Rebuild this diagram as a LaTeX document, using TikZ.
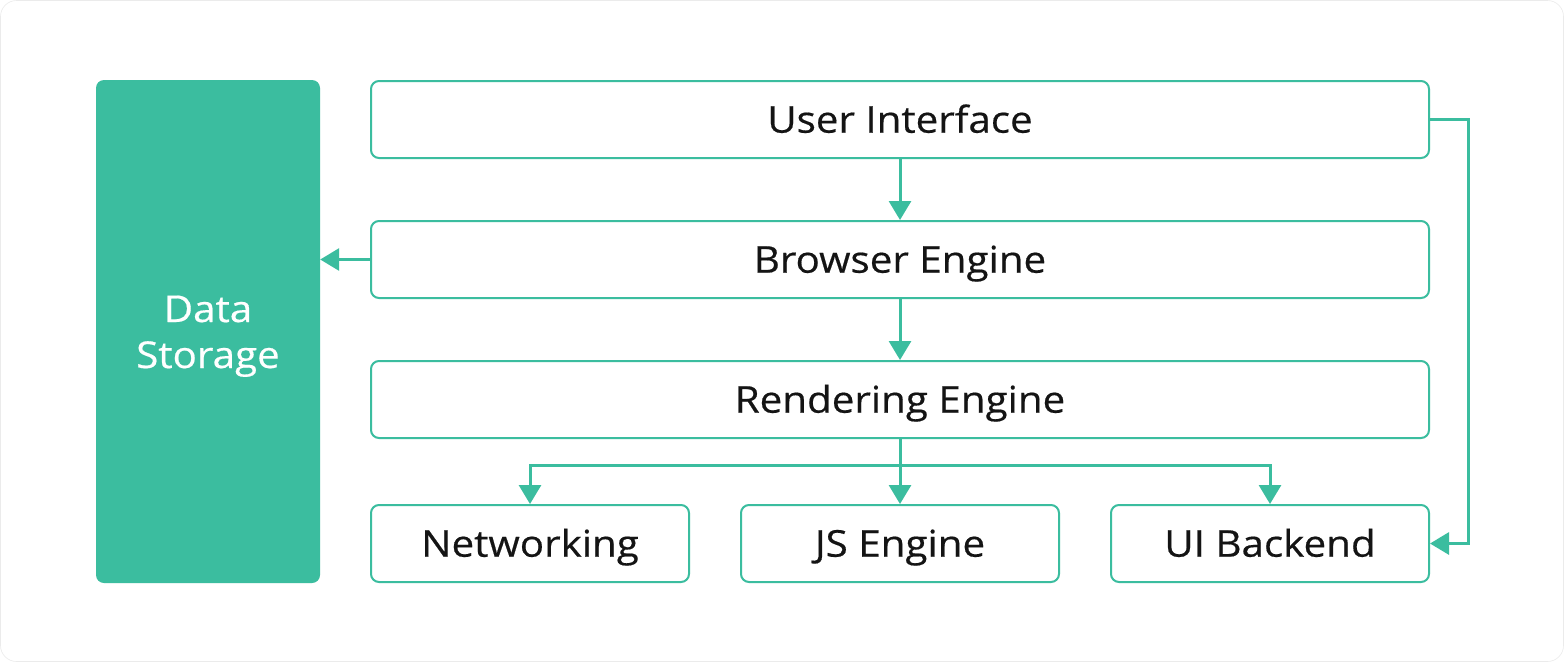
\documentclass[tikz,border=0pt]{standalone}
\usepackage{fontspec}
\setmainfont[FakeStretch=1.09,FakeBold=0.45]{Open Sans}
\usetikzlibrary{arrows.meta,calc}
\definecolor{teal}{HTML}{3BBD9F}
\definecolor{ink}{HTML}{141414}
\tikzset{
  box/.style={draw=teal, line width=2pt, rounded corners=8pt, fill=white,
    minimum height=77pt, inner sep=0pt, text=ink, text height=26.4pt, text depth=0pt,
    font=\fontsize{37}{44}\selectfont},
  store/.style={fill=teal, rounded corners=8pt, minimum width=224pt,
    minimum height=503pt, inner sep=0pt},
  storetext/.style={text=white, align=center, inner sep=0pt,
    font=\fontsize{37}{46}\selectfont},
  conn/.style={draw=teal, line width=3pt, -{Triangle[width=22pt,length=19pt]}}
}
\begin{document}
\begin{tikzpicture}[x=1pt,y=-1pt]
\useasboundingbox (0,0) rectangle (1564,662);
\draw[draw=black!8, line width=0.6pt, fill=white, rounded corners=16pt] (0.5,0.5) rectangle (1563.5,661.5);
\node[store] (ds) at (208,331.5) {};
\node[storetext, anchor=base] (dstxt) at (208,368) {Data\\Storage};
\node[box, minimum width=1058pt] (ui) at (900,119.5) {User Interface};
\node[box, minimum width=1058pt] (be) at (900,259.5) {Browser Engine};
\node[box, minimum width=1058pt] (re) at (900,399.5) {Rendering Engine};
\node[box, minimum width=318pt] (nw) at (530,543.5) {Networking};
\node[box, minimum width=318pt] (js) at (900,543.5) {JS Engine};
\node[box, minimum width=318pt] (ub) at (1270,543.5) {UI Backend};
\draw[conn] (ui.south) -- (be.north);
\draw[conn] (be.south) -- (re.north);
\draw[conn] (be.west) -- (be.west -| ds.east);
\draw[conn] (re.south) -- (js.north);
\coordinate (j) at ($(re.south)+(0,26)$);
\draw[conn] (j) -| (nw.north);
\draw[conn] (j) -| (ub.north);
\coordinate (r) at ($(ui.east)+(38,0)$);
\draw[conn] (ui.east) -- (r) |- (ub.east);
\end{tikzpicture}
\end{document}
